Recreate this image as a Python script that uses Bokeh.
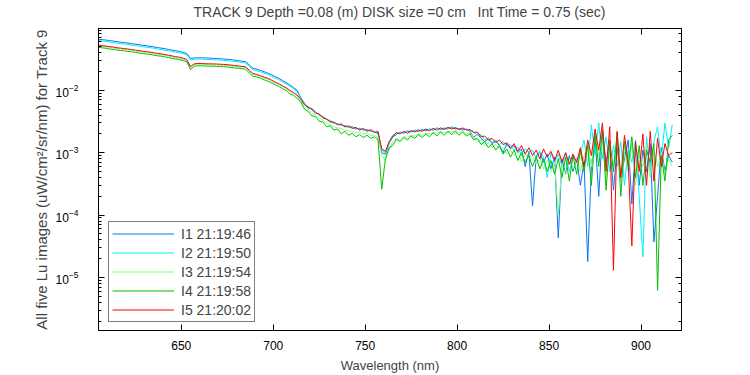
from bokeh.plotting import figure
from bokeh.models import Range1d, LinearAxis, LogAxis, Legend, Title, CustomLabelingPolicy
from bokeh.embed import file_html
from bokeh.resources import INLINE

# wavelength grid (nm)
wavelength = list(range(605, 918, 2))

# values in units of 1e-3 uW/cm^2/sr/nm
i1 = [66.0, 65.0, 64.0, 62.8, 61.5, 60.3, 59.0, 58.2, 57.2, 56.0, 55.0, 54.0, 52.8, 51.8, 50.9, 49.8, 48.5, 47.6, 46.5, 45.3,
      44.2, 43.0, 42.0, 40.6, 39.0, 32.5, 33.0, 33.3, 33.2, 33.0, 32.8, 32.6, 32.4, 32.1, 31.8, 31.5, 31.0, 30.5, 30.0, 29.3,
      28.8, 25.5, 22.5, 21.8, 20.9, 19.9, 18.9, 17.8, 16.6, 15.6, 14.4, 13.3, 12.2, 11.1, 10.0,
      7.6, 6.2, 5.2, 5.1, 4.5, 4.0, 3.8, 3.4, 3.2, 3.0, 2.9, 2.75, 2.7, 2.55, 2.6, 2.4, 2.45, 2.3, 2.35, 2.2,
      2.2, 2.0, 1.0, 0.95, 1.4, 1.8, 1.95, 2.15, 2.05, 2.2, 2.15, 2.3, 2.2, 2.35, 2.25, 2.4, 2.3, 2.5, 2.35, 2.45,
      2.4, 2.6, 2.4, 2.45, 2.3, 2.4, 2.2, 1.75, 2.0, 1.7, 1.5, 1.65, 1.4, 1.55, 1.3, 1.0, 1.4, 1.15, 1.3, 1.0,
      1.15, 0.6, 1.05, 0.14, 0.9, 1.0, 0.7, 0.95, 0.55, 0.85, 0.043, 0.8, 0.45, 0.9, 0.5, 0.8, 0.3, 0.7, 0.018, 0.6,
      1.8, 0.2, 2.2, 0.7, 1.5, 0.25, 1.2, 0.4, 0.8, 1.6, 0.15, 1.3, 0.3, 1.1, 0.5, 1.4, 0.037, 0.2, 1.2, 0.5,
      0.9, 0.7]
i2 = [62.5, 61.8, 60.8, 59.6, 58.4, 57.2, 56.1, 55.2, 54.3, 53.2, 52.2, 51.3, 50.1, 49.2, 48.3, 47.3, 46.1, 45.2, 44.2, 43.0,
      42.0, 40.8, 39.9, 38.6, 37.0, 30.5, 31.3, 31.6, 31.5, 31.4, 31.2, 31.0, 30.8, 30.5, 30.2, 29.9, 29.4, 29.0, 28.5, 27.9,
      27.4, 24.2, 21.4, 20.7, 19.8, 18.9, 18.0, 16.9, 15.8, 14.8, 13.7, 12.7, 11.6, 10.6, 9.5,
      7.4, 6.0, 5.5, 4.8, 4.4, 4.1, 3.7, 3.4, 3.3, 3.0, 2.85, 2.8, 2.6, 2.6, 2.5, 2.5, 2.35, 2.4, 2.3, 2.25,
      2.15, 2.1, 1.1, 1.0, 1.45, 1.9, 2.05, 2.1, 2.1, 2.25, 2.2, 2.25, 2.3, 2.3, 2.35, 2.35, 2.4, 2.45, 2.4, 2.5,
      2.45, 2.5, 2.55, 2.4, 2.45, 2.35, 2.3, 2.2, 1.9, 1.95, 1.6, 1.75, 1.45, 1.6, 1.35, 1.5, 1.25, 1.35, 1.1, 1.25,
      0.9, 1.15, 1.0, 1.1, 0.8, 1.05, 0.85, 0.4, 1.0, 0.7, 0.95, 0.6, 1.0, 0.5, 0.85, 0.7, 0.95, 1.6, 0.6, 2.8,
      0.9, 3.0, 0.8, 1.8, 0.5, 1.3, 0.6, 1.5, 0.3, 1.2, 0.7, 1.6, 0.2, 0.0215, 1.8, 0.5, 1.5, 2.6, 0.8, 3.0,
      1.2, 2.8]
i3 = [51.5, 50.5, 49.7, 48.7, 47.9, 46.8, 46.0, 45.4, 44.5, 43.6, 42.8, 42.0, 41.1, 40.4, 39.7, 38.8, 37.9, 37.2, 36.4, 35.5,
      34.5, 33.6, 32.9, 31.7, 30.4, 23.2, 25.7, 26.2, 26.1, 25.9, 25.8, 25.7, 25.6, 25.4, 25.2, 25.0, 24.6, 24.2, 23.9, 23.5,
      23.1, 20.3, 18.0, 17.4, 16.7, 15.8, 15.1, 14.2, 13.2, 12.4, 11.4, 10.7, 9.7, 8.9, 8.1,
      6.8, 5.5, 4.9, 4.4, 4.0, 3.6, 3.3, 3.0, 2.8, 2.6, 2.5, 2.45, 2.3, 2.25, 2.2, 2.1, 2.15, 2.0, 2.05, 1.9,
      1.9, 1.75, 0.9, 0.75, 1.1, 1.5, 1.7, 1.6, 1.8, 1.75, 1.9, 1.85, 2.0, 1.9, 2.05, 2.0, 2.1, 2.05, 2.2, 2.1,
      2.2, 2.15, 2.25, 2.1, 2.2, 2.0, 2.05, 1.8, 1.5, 1.6, 1.3, 1.45, 1.2, 1.35, 1.15, 1.2, 0.95, 1.1, 0.9, 1.05,
      0.7, 0.95, 0.8, 0.9, 0.65, 0.85, 0.55, 0.75, 0.5, 0.7, 0.1, 0.65, 0.45, 0.7, 0.55, 0.8, 0.5, 0.9, 1.4, 0.6,
      2.2, 0.9, 1.5, 0.4, 1.1, 0.6, 1.7, 0.35, 1.0, 0.5, 1.4, 0.3, 0.9, 0.6, 1.3, 0.4, 1.1, 0.6, 1.0, 0.45,
      0.8, 0.6]
i4 = [49.0, 48.0, 47.3, 46.0, 45.5, 44.2, 43.6, 43.0, 42.0, 41.4, 40.5, 39.6, 39.0, 38.1, 37.6, 36.7, 35.8, 35.3, 34.4, 33.6,
      32.6, 31.8, 31.1, 30.0, 28.7, 21.5, 24.3, 24.8, 24.7, 24.5, 24.4, 24.4, 24.2, 24.0, 23.9, 23.7, 23.3, 22.9, 22.6, 22.2,
      21.8, 19.0, 16.8, 16.4, 15.7, 14.8, 14.0, 13.2, 12.3, 11.6, 10.6, 10.0, 8.8, 8.3, 7.4,
      6.5, 5.0, 4.6, 3.9, 3.8, 3.2, 3.1, 2.6, 2.7, 2.3, 2.4, 2.0, 2.2, 1.9, 2.05, 1.8, 1.95, 1.75, 1.9, 1.7,
      1.8, 1.6, 0.26, 0.8, 1.2, 1.3, 1.65, 1.5, 1.75, 1.6, 1.85, 1.7, 1.95, 1.75, 2.0, 1.8, 2.1, 1.85, 2.15, 1.9,
      2.2, 1.95, 2.2, 1.9, 2.15, 1.85, 2.0, 1.6, 1.7, 1.35, 1.5, 1.2, 1.4, 1.1, 1.3, 0.95, 1.15, 0.85, 1.1, 0.75,
      1.0, 0.7, 0.9, 0.6, 0.85, 0.55, 0.8, 0.5, 0.75, 0.45, 0.8, 0.4, 0.85, 0.35, 0.9, 0.45, 1.1, 0.5, 1.3, 0.3,
      2.0, 0.6, 2.3, 0.25, 1.6, 0.5, 2.1, 0.2, 1.5, 0.6, 1.8, 0.4, 1.3, 0.3, 1.1, 0.7, 1.4, 0.0062, 0.9, 0.35,
      1.6, 1.9]
i5 = [53.0, 52.0, 51.3, 50.2, 49.4, 48.2, 47.4, 46.8, 45.9, 45.0, 44.1, 43.3, 42.4, 41.6, 40.9, 40.0, 39.1, 38.4, 37.5, 36.6,
      35.6, 34.6, 33.9, 32.7, 31.3, 24.0, 26.5, 27.0, 26.9, 26.7, 26.6, 26.5, 26.4, 26.2, 26.0, 25.8, 25.4, 25.0, 24.6, 24.2,
      23.8, 21.0, 18.6, 18.0, 17.2, 16.3, 15.6, 14.6, 13.6, 12.8, 11.8, 11.0, 10.0, 9.2, 8.4,
      7.2, 5.9, 5.4, 5.0, 4.3, 4.2, 3.6, 3.5, 3.1, 3.1, 2.8, 2.9, 2.6, 2.7, 2.45, 2.55, 2.3, 2.45, 2.2, 2.35,
      2.1, 2.2, 1.15, 1.05, 1.5, 1.85, 2.1, 2.0, 2.2, 2.05, 2.25, 2.15, 2.3, 2.2, 2.4, 2.25, 2.45, 2.3, 2.5, 2.35,
      2.55, 2.4, 2.5, 2.35, 2.5, 2.3, 2.35, 2.1, 2.15, 1.8, 1.85, 1.6, 1.7, 1.45, 1.6, 1.35, 1.45, 1.2, 1.4, 1.05,
      1.3, 0.95, 1.2, 0.9, 1.1, 0.8, 1.15, 0.85, 1.05, 0.75, 1.1, 0.7, 1.0, 0.65, 0.95, 0.7, 1.2, 0.6, 1.6, 0.9,
      2.4, 1.1, 3.0, 0.5, 2.6, 0.013, 2.2, 0.4, 1.9, 0.7, 0.032, 1.5, 0.5, 2.0, 0.3, 2.2, 0.35, 1.7, 0.6, 1.4,
      0.9, 1.0]

series_names = ["I1 21:19:46", "I2 21:19:50", "I3 21:19:54", "I4 21:19:58", "I5 21:20:02"]
series_values = [i1, i2, i3, i4, i5]
series_colors = ["#0A74F0", "#00F0FF", "#80FF80", "#00C000", "#FF0000"]
UNIT = 1e-3

FONT = "Liberation Sans"

p = figure(width=745, height=375, y_axis_type="log",
           x_range=Range1d(605, 922), y_range=Range1d(1.41e-6, 0.098),
           output_backend="svg", toolbar_location=None,
           min_border_left=98, min_border_right=64, min_border_top=28, min_border_bottom=44)
p.background_fill_color = "white"
p.border_fill_color = "white"
p.outline_line_color = "black"
p.grid.visible = False

items = []
for name, vals, col in zip(series_names, series_values, series_colors):
    ys = [v * UNIT for v in vals]
    r = p.line(wavelength, ys, line_color=col, line_width=1)
    items.append((name, [r]))

legend = Legend(items=items, location=(10, 8), label_text_font=FONT, label_text_font_size="14px",
                glyph_width=62, glyph_height=17, label_height=17, spacing=2, padding=3, margin=0,
                label_standoff=7, border_line_color="black", border_line_width=1,
                background_fill_color="white", background_fill_alpha=1)
p.add_layout(legend, "center")

p.title = Title(text="TRACK 9 Depth =0.08 (m) DISK size =0 cm\u00a0\u00a0\u00a0Int Time = 0.75 (sec)",
                text_font=FONT, text_font_size="14px", text_font_style="normal",
                align="left", offset=95, standoff=1)

xa = p.xaxis[0]
ya = p.yaxis[0]
xa.ticker.desired_num_ticks = 7
xa.axis_label = "Wavelength (nm)"
ya.axis_label = "All five Lu images (uW/cm\u00b2/sr/nm) for Track 9"
for ax in (xa, ya):
    ax.axis_label_text_font = FONT
    ax.axis_label_text_font_style = "normal"
    ax.major_label_text_font = FONT
    ax.major_label_text_font_size = "12px"
    ax.major_label_text_color = "black"
    ax.axis_line_color = "black"
    ax.major_tick_in = 6
    ax.major_tick_out = 0
    ax.minor_tick_in = 3
    ax.minor_tick_out = 0
xa.axis_label_text_font_size = "13px"
ya.axis_label_text_font_size = "15px"
xa.minor_tick_line_color = None
xa.major_label_standoff = 10
xa.axis_label_standoff = 5
ya.major_label_standoff = 20
ya.axis_label_standoff = 3

top = LinearAxis(major_label_policy=CustomLabelingPolicy(code="for (const i of Array.from(indices)) { indices.unset(i) }"),
                 axis_label=None, axis_label_standoff=0,
                 major_label_standoff=0, major_label_text_font_size="1px",
                 major_tick_in=6, major_tick_out=0, minor_tick_line_color=None)
top.ticker = xa.ticker
right = LogAxis(major_label_policy=CustomLabelingPolicy(code="for (const i of Array.from(indices)) { indices.unset(i) }"),
                axis_label=None, axis_label_standoff=0,
                major_label_standoff=0,
                major_tick_in=6, major_tick_out=0, minor_tick_in=3, minor_tick_out=0)
p.add_layout(top, "above")
p.add_layout(right, "right")

open("out.html", "w").write(file_html(p, INLINE))
